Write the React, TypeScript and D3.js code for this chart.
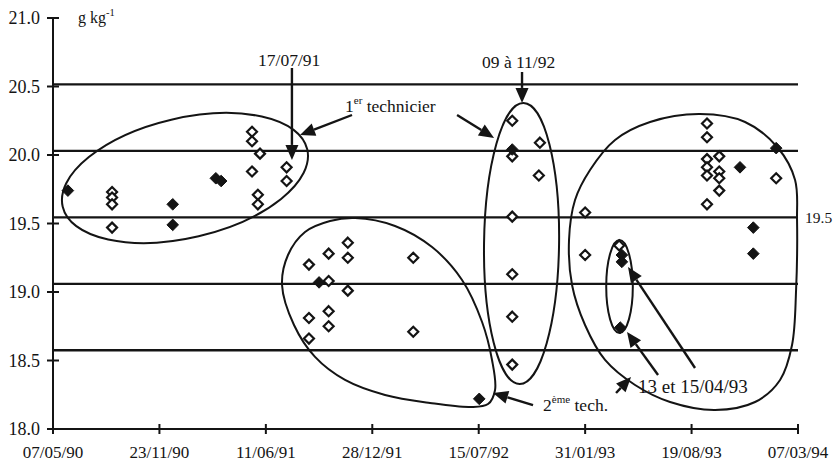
import React from 'react';
import * as d3 from 'd3';

// ---- data ----
const xTickLabels = ['07/05/90', '23/11/90', '11/06/91', '28/12/91', '15/07/92', '31/01/93', '19/08/93', '07/03/94'];
const yTickValues = [18.0, 18.5, 19.0, 19.5, 20.0, 20.5, 21.0];

// mean and ±1 / ±2 standard-deviation reference lines
const refLines = [18.575, 19.06, 19.545, 20.03, 20.515];
const meanLabel = '19.5';

const openDates = [
  '1990-08-26', '1990-08-26', '1990-08-26', '1990-08-26',
  '1991-05-16', '1991-05-16', '1991-05-16',
  '1991-05-31',
  '1991-05-27', '1991-05-27',
  '1991-07-20', '1991-07-20',
  '1991-08-31', '1991-08-31', '1991-08-31',
  '1991-10-07', '1991-10-07', '1991-10-07', '1991-10-07',
  '1991-11-12', '1991-11-12', '1991-11-12',
  '1992-03-14', '1992-03-14',
  '1992-09-16', '1992-09-16', '1992-09-16', '1992-09-16', '1992-09-16', '1992-09-16',
  '1992-11-07', '1992-11-05',
  '1993-01-31', '1993-01-31',
  '1993-04-05',
  '1993-09-17', '1993-09-17', '1993-09-17', '1993-09-17', '1993-09-17', '1993-09-17',
  '1993-10-10', '1993-10-10', '1993-10-10', '1993-10-10',
  '1994-01-25',
];
const openValues = [
  19.73, 19.69, 19.64, 19.47,
  20.17, 20.10, 19.88,
  20.01,
  19.71, 19.64,
  19.91, 19.81,
  19.20, 18.81, 18.66,
  19.28, 19.08, 18.86, 18.75,
  19.36, 19.25, 19.01,
  19.25, 18.71,
  20.25, 19.99, 19.55, 19.13, 18.82, 18.47,
  20.09, 19.85,
  19.58, 19.27,
  19.34,
  20.23, 20.13, 19.97, 19.91, 19.85, 19.64,
  19.99, 19.88, 19.83, 19.74,
  19.83,
];

const solidDates = [
  '1990-06-04', '1990-12-18', '1990-12-18', '1991-03-09', '1991-03-19',
  '1991-09-19', '1992-07-16', '1992-09-16', '1993-04-10', '1993-04-10',
  '1993-04-07', '1993-11-18', '1993-12-13', '1993-12-13', '1994-01-25',
];
const solidValues = [
  19.74, 19.64, 19.49, 19.83, 19.81,
  19.07, 18.22, 20.04, 19.27, 19.22,
  18.74, 19.91, 19.47, 19.28, 20.05,
];

// ---- annotations (days counted from the first axis date, values in g/kg) ----
const ellipses = [
  { day: 248, value: 19.832, rxDays: 236, ryValue: 0.437, angle: -13.2 },
  { day: 880.5, value: 19.354, rxDays: 70.5, ryValue: 1.026, angle: 0.8 },
  { day: 1064.6, value: 19.04, rxDays: 25, ryValue: 0.339, angle: 0 },
];

const secondTechOutline: [number, number][] = [
  [430.4, 19.051], [441.6, 19.27], [473.6, 19.438], [520.6, 19.518], [567.6, 19.54],
  [642.7, 19.482], [712.3, 19.328], [768.7, 19.088], [806.3, 18.781], [825.0, 18.504],
  [830.7, 18.285], [817.5, 18.182], [783.7, 18.161], [708.5, 18.19], [624.0, 18.248],
  [548.8, 18.358], [492.4, 18.526], [452.9, 18.759],
];

const lastGroupOutline: [number, number][] = [
  [969.7, 19.38], [981.0, 19.672], [1009.2, 19.891], [1056.2, 20.11], [1122.0, 20.241],
  [1216.0, 20.299], [1300.5, 20.241], [1362.5, 20.051], [1394.5, 19.818], [1398.2, 19.526],
  [1396.4, 19.015], [1388.8, 18.613], [1366.3, 18.358], [1319.3, 18.197], [1244.1, 18.139],
  [1159.6, 18.197], [1093.8, 18.321], [1037.4, 18.504], [999.8, 18.759], [975.4, 19.051],
];

const arrows: { from: [number, number]; to: [number, number] }[] = [
  { from: [449, 20.635], to: [449, 19.964] },
  { from: [881.4, 20.606], to: [881.4, 20.38] },
  { from: [561.9, 20.292], to: [464.2, 20.146] },
  { from: [759.3, 20.292], to: [828.8, 20.124] },
  { from: [902.1, 18.175], to: [826.9, 18.263] },
  { from: [1058.1, 18.263], to: [1086.3, 18.38] },
  { from: [1137.0, 18.394], to: [1078.7, 18.708] },
  { from: [1206.5, 18.445], to: [1080.6, 19.182] },
];

const W = 840;
const H = 464;
const X0 = 53;
const X1 = 798;
const Y0 = 429;
const Y1 = 18;
const FONT = '"Liberation Serif", "DejaVu Serif", serif';
const INK = '#141414';

const parseIso = d3.utcParse('%Y-%m-%d');
const parseTick = d3.utcParse('%d/%m/%y');
const xStart = parseTick(xTickLabels[0]) as Date;
const xEnd = parseTick(xTickLabels[xTickLabels.length - 1]) as Date;
const fromDay = (d: number) => new Date(xStart.getTime() + d * 864e5);

const x = d3.scaleUtc().domain([xStart, xEnd]).range([X0, X1]);
const y = d3.scaleLinear().domain([18, 21]).range([Y0, Y1]);

const diamond = (cx: number, cy: number, r: number) =>
  `M${cx},${cy - r}L${cx + r},${cy}L${cx},${cy + r}L${cx - r},${cy}Z`;

const outlinePath = (pts: [number, number][]) =>
  d3
    .line<[number, number]>()
    .x((p) => x(fromDay(p[0])))
    .y((p) => y(p[1]))
    .curve(d3.curveCatmullRomClosed.alpha(0.5))(pts) as string;

function Arrow({ from, to }: { from: [number, number]; to: [number, number] }) {
  const x1 = x(fromDay(from[0]));
  const y1 = y(from[1]);
  const x2 = x(fromDay(to[0]));
  const y2 = y(to[1]);
  const ang = Math.atan2(y2 - y1, x2 - x1);
  const len = 15;
  const half = 6.5;
  const bx = x2 - len * Math.cos(ang);
  const by = y2 - len * Math.sin(ang);
  const px = -Math.sin(ang) * half;
  const py = Math.cos(ang) * half;
  return (
    <g>
      <line x1={x1} y1={y1} x2={bx} y2={by} stroke={INK} strokeWidth={2.4} />
      <path d={`M${x2},${y2}L${bx + px},${by + py}L${bx - px},${by - py}Z`} fill={INK} />
    </g>
  );
}

const textStyle = (size: number): React.CSSProperties => ({ fontFamily: FONT, fontSize: size });

function Label({ day, value, children, size = 17.5 }: { day: number; value: number; children: React.ReactNode; size?: number }) {
  return (
    <text x={x(fromDay(day))} y={y(value)} style={textStyle(size)} fill={INK}>
      {children}
    </text>
  );
}

export default function App() {
  const xTicks = xTickLabels.map((l) => parseTick(l) as Date);
  const open = openDates.map((d, i) => ({ date: parseIso(d) as Date, value: openValues[i] }));
  const solid = solidDates.map((d, i) => ({ date: parseIso(d) as Date, value: solidValues[i] }));

  return (
    <svg width={W} height={H} style={{ position: 'absolute', left: 0, top: 0, background: '#fff' }}>
      <rect width={W} height={H} fill="#fff" />

      {/* reference lines */}
      {refLines.map((v) => (
        <line key={v} x1={X0} x2={X1} y1={y(v)} y2={y(v)} stroke={INK} strokeWidth={2.3} />
      ))}
      <text x={X1 + 7} y={y(refLines[2]) + 6} style={textStyle(15.5)} fill={INK}>
        {meanLabel}
      </text>

      {/* axes */}
      <line x1={X0} x2={X0} y1={Y1} y2={Y0} stroke={INK} strokeWidth={2} />
      <line x1={X0} x2={X1} y1={Y0} y2={Y0} stroke={INK} strokeWidth={2} />
      {yTickValues.map((v) => (
        <g key={v}>
          <line x1={X0 - 6} x2={X0 + 6} y1={y(v)} y2={y(v)} stroke={INK} strokeWidth={2} />
          <text x={X0 - 13} y={y(v) + 6} textAnchor="end" style={textStyle(18)} fill={INK}>
            {d3.format('.1f')(v)}
          </text>
        </g>
      ))}
      {xTicks.map((t, i) => (
        <g key={i}>
          <line x1={x(t)} x2={x(t)} y1={Y0 - 5} y2={Y0 + 5} stroke={INK} strokeWidth={2} />
          <text x={x(t)} y={Y0 + 29} textAnchor="middle" style={textStyle(17)} fill={INK}>
            {xTickLabels[i]}
          </text>
        </g>
      ))}
      <Label day={47} value={20.964} size={16}>
        g kg<tspan style={{ fontSize: 10.5 }} dy={-7}>-1</tspan>
      </Label>

      {/* group outlines */}
      {ellipses.map((e, i) => {
        const cx = x(fromDay(e.day));
        const cy = y(e.value);
        const rx = x(fromDay(e.day + e.rxDays)) - cx;
        const ry = cy - y(e.value + e.ryValue);
        return (
          <ellipse key={i} cx={cx} cy={cy} rx={rx} ry={ry} transform={`rotate(${e.angle},${cx},${cy})`}
            fill="none" stroke={INK} strokeWidth={2} />
        );
      })}
      <path d={outlinePath(secondTechOutline)} fill="none" stroke={INK} strokeWidth={2} />
      <path d={outlinePath(lastGroupOutline)} fill="none" stroke={INK} strokeWidth={2} />

      {/* arrows */}
      {arrows.map((a, i) => (
        <Arrow key={i} from={a.from} to={a.to} />
      ))}

      {/* points */}
      {open.map((p, i) => (
        <path key={`o${i}`} d={diamond(x(p.date), y(p.value), 5)} fill="#fff" stroke={INK} strokeWidth={2.2} />
      ))}
      {solid.map((p, i) => (
        <path key={`s${i}`} d={diamond(x(p.date), y(p.value), 5.8)} fill={INK} stroke={INK} strokeWidth={1} />
      ))}

      {/* annotation text */}
      <Label day={385.3} value={20.65}>17/07/91</Label>
      <Label day={806.2} value={20.635}>09 à 11/92</Label>
      <Label day={548.8} value={20.314}>
        1<tspan style={{ fontSize: 11 }} dy={-8}>er</tspan>
        <tspan dy={8}> technicier</tspan>
      </Label>
      <Label day={920.9} value={18.131}>
        2<tspan style={{ fontSize: 11 }} dy={-8}>ème</tspan>
        <tspan dy={8}> tech.</tspan>
      </Label>
      <Label day={1099.4} value={18.263} size={19}>13 et 15/04/93</Label>
    </svg>
  );
}
